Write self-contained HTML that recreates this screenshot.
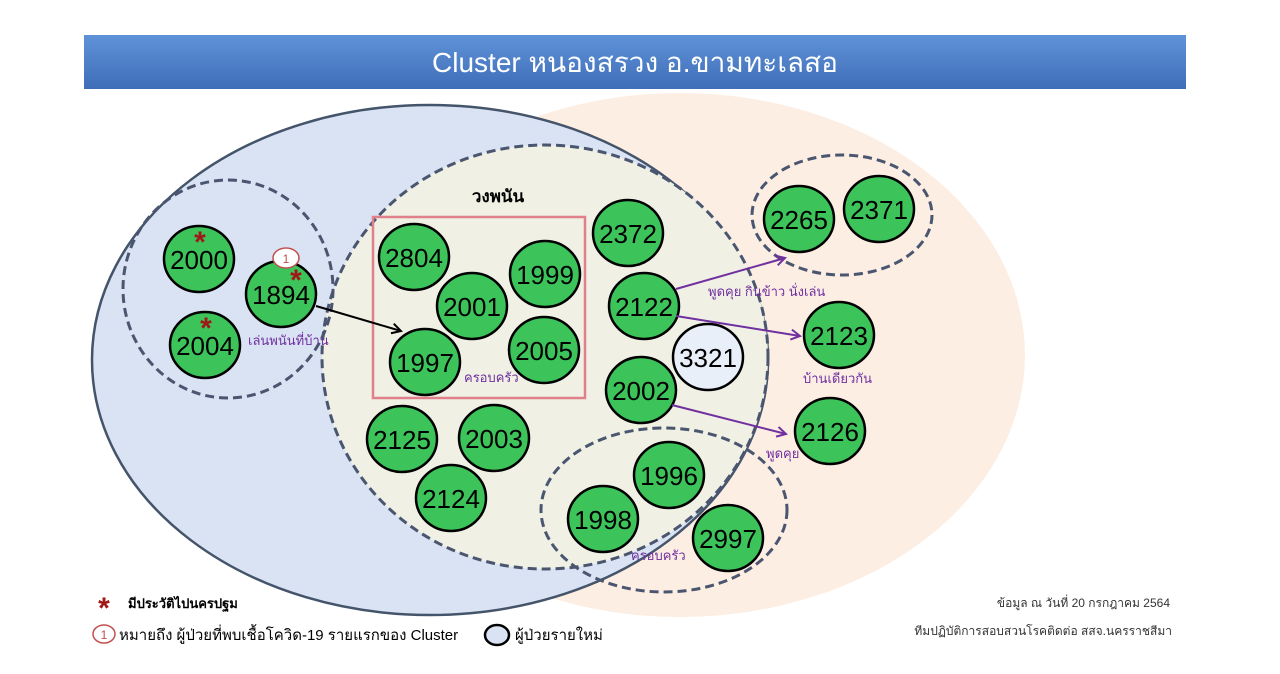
<!DOCTYPE html>
<html><head><meta charset="utf-8"><style>
html,body{margin:0;padding:0;background:#fff;width:1280px;height:674px;overflow:hidden}
svg{display:block}
text{font-family:"Liberation Sans","Noto Sans CJK SC",sans-serif}
.th{font-family:"Liberation Sans","Noto Sans CJK SC","WenQuanYi Zen Hei",sans-serif}
</style></head><body>
<svg width="1280" height="674" viewBox="0 0 1280 674" xmlns="http://www.w3.org/2000/svg">
<defs>
<linearGradient id="tb" x1="0" y1="0" x2="0" y2="1"><stop offset="0" stop-color="#5f93d8"/><stop offset="1" stop-color="#3f6db8"/></linearGradient>
<marker id="ap" markerWidth="12" markerHeight="12" refX="10" refY="6" orient="auto" markerUnits="userSpaceOnUse"><path d="M1,1 L10,6 L1,11" fill="none" stroke="#7030a0" stroke-width="2"/></marker>
<marker id="ab" markerWidth="12" markerHeight="12" refX="10" refY="6" orient="auto" markerUnits="userSpaceOnUse"><path d="M1,1 L10,6 L1,11" fill="none" stroke="#000" stroke-width="2"/></marker>
</defs>
<ellipse cx="680" cy="355" rx="345" ry="262" fill="#fdeee3"/>
<ellipse cx="430" cy="360" rx="338" ry="255" fill="#dae3f3" stroke="#44546a" stroke-width="2.5"/>
<ellipse cx="545" cy="357" rx="223" ry="212" fill="#f0f1e4" stroke="#4a5670" stroke-width="3" stroke-dasharray="9,5"/>
<ellipse cx="228" cy="289" rx="105" ry="109" fill="none" stroke="#4a5670" stroke-width="3" stroke-dasharray="9,5"/>
<ellipse cx="842" cy="215" rx="90" ry="60" fill="none" stroke="#4a5670" stroke-width="3" stroke-dasharray="9,5"/>
<ellipse cx="664" cy="510" rx="123" ry="82" fill="none" stroke="#4a5670" stroke-width="3" stroke-dasharray="9,5"/>
<rect x="373" y="217" width="212" height="181" fill="none" stroke="#e0808a" stroke-width="2.5"/>
<rect x="84" y="35" width="1102" height="54" fill="url(#tb)"/>
<text x="635" y="72" text-anchor="middle" font-size="28" fill="#fff" class="th">Cluster หนองสรวง อ.ขามทะเลสอ</text>
<g stroke="#000" stroke-width="2.5" fill="#3cc45a">
<ellipse cx="199" cy="259" rx="35" ry="33"/><ellipse cx="205" cy="345" rx="35" ry="33"/><ellipse cx="281" cy="294" rx="35" ry="33"/>
<ellipse cx="414" cy="257" rx="35" ry="33"/><ellipse cx="472" cy="306" rx="35" ry="33"/><ellipse cx="545" cy="274" rx="35" ry="33"/>
<ellipse cx="425" cy="362" rx="35" ry="33"/><ellipse cx="544" cy="350" rx="35" ry="33"/><ellipse cx="628" cy="233" rx="35" ry="33"/>
<ellipse cx="644" cy="306" rx="35" ry="33"/><ellipse cx="641" cy="390" rx="35" ry="33"/>
<ellipse cx="402" cy="439" rx="35" ry="33"/><ellipse cx="494" cy="438" rx="35" ry="33"/><ellipse cx="451" cy="498" rx="35" ry="33"/>
<ellipse cx="669" cy="475" rx="35" ry="33"/><ellipse cx="603" cy="519" rx="35" ry="33"/><ellipse cx="728" cy="538" rx="35" ry="33"/>
<ellipse cx="799" cy="219" rx="35" ry="33"/><ellipse cx="879" cy="209" rx="35" ry="33"/><ellipse cx="839" cy="335" rx="35" ry="33"/><ellipse cx="830" cy="431" rx="35" ry="33"/>
<ellipse cx="708" cy="357" rx="35" ry="33" fill="#e8eff8"/>
</g>
<g font-size="26" text-anchor="middle" fill="#000">
<text x="199" y="269">2000</text><text x="205" y="355">2004</text><text x="281" y="304">1894</text>
<text x="414" y="267">2804</text><text x="472" y="316">2001</text><text x="545" y="284">1999</text>
<text x="425" y="372">1997</text><text x="544" y="360">2005</text><text x="628" y="243">2372</text>
<text x="644" y="316">2122</text><text x="641" y="400">2002</text><text x="708" y="367">3321</text>
<text x="402" y="449">2125</text><text x="494" y="448">2003</text><text x="451" y="508">2124</text>
<text x="669" y="485">1996</text><text x="603" y="529">1998</text><text x="728" y="548">2997</text>
<text x="799" y="229">2265</text><text x="879" y="219">2371</text><text x="839" y="345">2123</text><text x="830" y="441">2126</text>
</g>
<g fill="#a01818" font-size="30" text-anchor="middle" font-weight="bold">
<text x="200" y="252">*</text><text x="206" y="338">*</text><text x="296" y="290">*</text>
</g>
<ellipse cx="286" cy="258" rx="13" ry="10" fill="#fff" stroke="#c0504d" stroke-width="1.5"/>
<text x="286" y="263" font-size="12" text-anchor="middle" fill="#c0504d">1</text>
<g stroke="#7030a0" stroke-width="2" fill="none">
<line x1="676" y1="289" x2="785" y2="258" marker-end="url(#ap)"/>
<line x1="676" y1="316" x2="800" y2="336" marker-end="url(#ap)"/>
<line x1="672" y1="405" x2="786" y2="434" marker-end="url(#ap)"/>
</g>
<line x1="316" y1="306" x2="401" y2="331" stroke="#000" stroke-width="2" marker-end="url(#ab)"/>
<g fill="#7030a0" font-size="13" class="th">
<text x="708" y="296">พูดคุย กินข้าว นั่งเล่น</text>
<text x="803" y="383">บ้านเดียวกัน</text>
<text x="766" y="458">พูดคุย</text>
<text x="248" y="345">เล่นพนันที่บ้าน</text>
<text x="464" y="382">ครอบครัว</text>
<text x="631" y="560">ครอบครัว</text>
</g>
<text x="498" y="202" font-size="17" font-weight="bold" text-anchor="middle" class="th">วงพนัน</text>
<text x="104" y="618" font-size="30" fill="#a01818" font-weight="bold" text-anchor="middle">*</text>
<text x="128" y="608" font-size="13" font-weight="bold" class="th">มีประวัติไปนครปฐม</text>
<ellipse cx="104" cy="634" rx="11" ry="9" fill="#fff" stroke="#c0504d" stroke-width="1.5"/>
<text x="104" y="639" font-size="12" text-anchor="middle" fill="#c0504d">1</text>
<text x="119" y="640" font-size="15" class="th">หมายถึง ผู้ป่วยที่พบเชื้อโควิด-19 รายแรกของ Cluster</text>
<ellipse cx="497" cy="635" rx="12" ry="10" fill="#dae3f3" stroke="#000" stroke-width="2.5"/>
<text x="515" y="640" font-size="15" class="th">ผู้ป่วยรายใหม่</text>
<text x="1170" y="607" font-size="12" text-anchor="end" fill="#333" class="th">ข้อมูล ณ วันที่ 20 กรกฎาคม 2564</text>
<text x="1172" y="635" font-size="12" text-anchor="end" fill="#333" class="th">ทีมปฏิบัติการสอบสวนโรคติดต่อ สสจ.นครราชสีมา</text>
</svg>
</body></html>
